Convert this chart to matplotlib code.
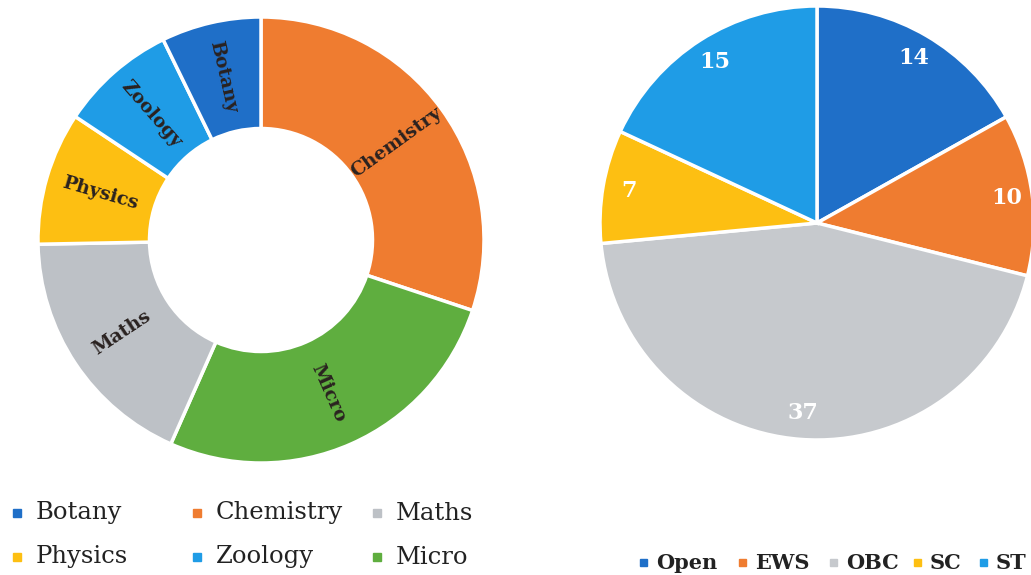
import numpy as np
import matplotlib
matplotlib.use("Agg")
import matplotlib.pyplot as plt
from matplotlib.patches import Rectangle

# Subject-wise split (donut), clockwise from 12 o'clock
subjects = ["Chemistry", "Micro", "Maths", "Physics", "Zoology", "Botany"]
subject_counts = [25, 22, 15, 8, 7, 6]
subject_legend = ["Botany", "Chemistry", "Maths", "Physics", "Zoology", "Micro"]

# Category-wise split (pie), clockwise from 12 o'clock
categories = ["Open", "EWS", "OBC", "SC", "ST"]
category_counts = [14, 10, 37, 7, 15]

colors = {
    "Botany": "#1f6fc8", "Chemistry": "#ef7c30", "Maths": "#bdc1c6",
    "Physics": "#fdbf12", "Zoology": "#1f9ce6", "Micro": "#5fae3f",
    "Open": "#1f6fc8", "EWS": "#ef7c30", "OBC": "#c6c9cd",
    "SC": "#fdbf12", "ST": "#1f9ce6",
}

W, H = 1031, 575
fig = plt.figure(figsize=(W / 100, H / 100), dpi=100)


# Helper: axes placed by pixel centre / radius so radius 1 == r_px
def pie_axes(cx, cy, r_px, pad=12):
    half = r_px + pad
    ax = fig.add_axes([(cx - half) / W, (H - cy - half) / H, 2 * half / W, 2 * half / H])
    return ax, half / r_px


def fix_limits(ax, lim):
    ax.set_xlim(-lim, lim)
    ax.set_ylim(-lim, lim)
    ax.set_aspect("equal")
    ax.axis("off")


# ---- Donut ----
ax1, lim1 = pie_axes(261, 240, 223)
wedges, _ = ax1.pie(subject_counts, colors=[colors[s] for s in subjects],
                    startangle=90, counterclock=False, radius=1,
                    wedgeprops=dict(width=0.5, edgecolor="white", linewidth=2.5))
for w, name in zip(wedges, subjects):
    mid = (w.theta1 + w.theta2) / 2
    r = 0.75
    x, y = r * np.cos(np.radians(mid)), r * np.sin(np.radians(mid))
    rot = mid
    while rot > 90:
        rot -= 180
    while rot <= -90:
        rot += 180
    ax1.text(x, y, name, rotation=rot, ha="center", va="center",
             rotation_mode="anchor",
             fontsize=13.5, fontweight="bold", family="DejaVu Serif", color="#2a2220")
fix_limits(ax1, lim1)

# ---- Pie ----
ax2, lim2 = pie_axes(817, 223, 217)
total = sum(category_counts)
ax2.pie(category_counts, colors=[colors[c] for c in categories],
        startangle=90, counterclock=False, radius=1,
        autopct=lambda p: f"{round(p * total / 100)}", pctdistance=0.88,
        wedgeprops=dict(edgecolor="white", linewidth=2.5),
        textprops=dict(color="white", fontsize=16, fontweight="bold", family="DejaVu Serif"))
fix_limits(ax2, lim2)

# ---- Legends ----
col_x = [17, 197, 377]
row_y = [513, 557]
for i, name in enumerate(subject_legend):
    x, y = col_x[i % 3], row_y[i // 3]
    fig.add_artist(Rectangle(((x - 4) / W, (H - y - 4) / H), 8 / W, 8 / H,
                             transform=fig.transFigure, color=colors[name]))
    fig.text((x + 19) / W, (H - y) / H, name, ha="left", va="center",
             fontsize=17.5, family="DejaVu Serif", color="#222222")

leg_x = [643, 742, 833, 917, 983]
for x, name in zip(leg_x, categories):
    y = 563
    fig.add_artist(Rectangle(((x - 3) / W, (H - y - 3) / H), 7 / W, 7 / H,
                             transform=fig.transFigure, color=colors[name]))
    fig.text((x + 13) / W, (H - y) / H, name, ha="left", va="center",
             fontsize=15, fontweight="bold", family="DejaVu Serif", color="#222222")

fig.savefig("out.png", dpi=100)
